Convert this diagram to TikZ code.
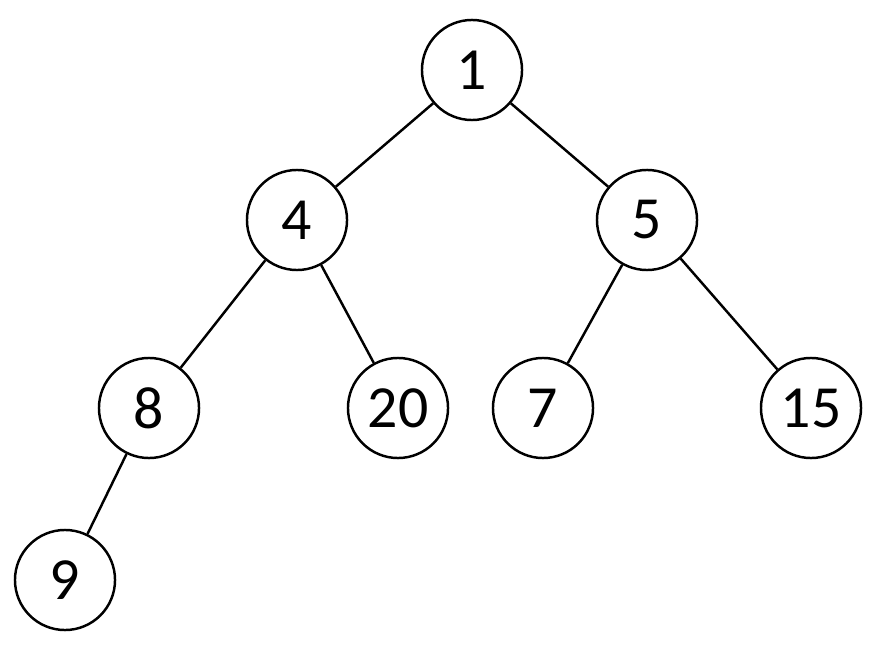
\documentclass[tikz,border=0pt]{standalone}
\usepackage{fontspec}
\setmainfont{Carlito}
\begin{document}
\begin{tikzpicture}[x=0.01cm,y=-0.01cm,
  tn/.style={circle,draw,line width=0.7pt,minimum size=1cm,inner sep=0pt,font=\fontsize{17}{20}\selectfont},
  ed/.style={line width=0.7pt}]
\useasboundingbox (0,0) rectangle (894,664);
\node[tn] (n1) at (472,70) {1};
\node[tn] (n4) at (297,220) {4};
\node[tn] (n5) at (647,220) {5};
\node[tn] (n8) at (149,408) {8};
\node[tn] (n20) at (398,408) {20};
\node[tn] (n7) at (543,408) {7};
\node[tn] (n15) at (811,408) {15};
\node[tn] (n9) at (65,580) {9};
\draw[ed] (n1)--(n4); \draw[ed] (n1)--(n5);
\draw[ed] (n4)--(n8); \draw[ed] (n4)--(n20);
\draw[ed] (n5)--(n7); \draw[ed] (n5)--(n15);
\draw[ed] (n8)--(n9);
\end{tikzpicture}
\end{document}
